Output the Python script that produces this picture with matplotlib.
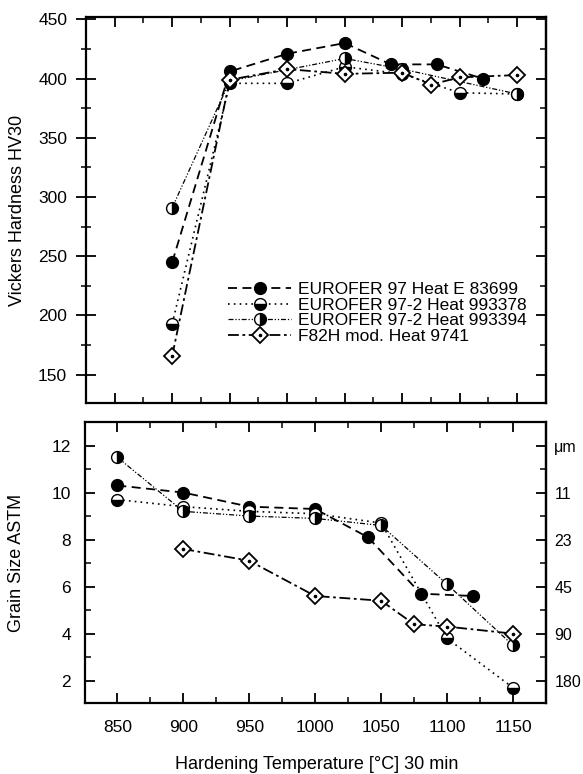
import matplotlib
matplotlib.use("Agg")
import matplotlib.pyplot as plt
from matplotlib.ticker import MultipleLocator, FixedLocator
from matplotlib.legend_handler import HandlerTuple

plt.rcParams['font.family'] = ['Liberation Sans', 'DejaVu Sans']

# ---------------- data ----------------
labels = ["EUROFER 97 Heat E 83699", "EUROFER 97-2 Heat 993378",
          "EUROFER 97-2 Heat 993394", "F82H mod. Heat 9741"]

# Hardness HV30
hv_t_e97 = [850, 900, 950, 1000, 1040, 1080, 1120]
hv_v_e97 = [245, 406, 421, 430, 412, 412, 400]
hv_t_378 = [850, 900, 950, 1000, 1050, 1100, 1150]
hv_v_378 = [193, 396, 396, 410, 404, 388, 387]
hv_t_394 = [850, 900, 1000, 1050, 1150]
hv_v_394 = [291, 398, 417, 408, 387]
hv_t_f82 = [850, 900, 950, 1000, 1050, 1075, 1100, 1150]
hv_v_f82 = [166, 399, 408, 404, 405, 395, 401, 403]

# Grain size ASTM
gs_t_e97 = [850, 900, 950, 1000, 1040, 1080, 1120]
gs_v_e97 = [10.3, 10.0, 9.4, 9.3, 8.1, 5.7, 5.6]
gs_t_378 = [850, 900, 950, 1000, 1050, 1100, 1150]
gs_v_378 = [9.7, 9.4, 9.2, 9.1, 8.7, 3.8, 1.7]
gs_t_394 = [850, 900, 950, 1000, 1050, 1100, 1150]
gs_v_394 = [11.5, 9.2, 9.0, 8.9, 8.6, 6.1, 3.5]
gs_t_f82 = [900, 950, 1000, 1050, 1075, 1100, 1150]
gs_v_f82 = [7.6, 7.1, 5.6, 5.4, 4.4, 4.3, 4.0]

um_ticks = [12, 10, 8, 6, 4, 2]
um_labels = ["\u03bcm", "11", "23", "45", "90", "180"]

# ---------------- style ----------------
styles = [
    dict(color='black', lw=1.3, dashes=(5, 3), marker='o', ms=8.5,
         mfc='black', mec='black'),
    dict(color='black', lw=1.2, dashes=(1, 2.5), marker='o', ms=8.5,
         mfc='black', mfcalt='white', fillstyle='bottom', mec='black'),
    dict(color='black', lw=0.9, dashes=(4, 1.5, 1, 1.5, 1, 1.5), marker='o', ms=8.5,
         mfc='black', mfcalt='white', fillstyle='right', mec='black'),
    dict(color='black', lw=1.3, dashes=(6, 2, 1.5, 2), marker='D', ms=8,
         mfc='white', mec='black', mew=1.3),
]

fig = plt.figure(figsize=(5.83, 7.74), dpi=100)
ax1 = fig.add_axes([0.1475, 0.4793, 0.789, 0.4987])
ax2 = fig.add_axes([0.1458, 0.0917, 0.7907, 0.3631])

def draw(ax, series):
    handles = []
    for (t, v), st in zip(series, styles):
        ln, = ax.plot(t, v, **st)
        handles.append(ln)
    # dot in diamond centre
    t, v = series[3]
    dot, = ax.plot(t, v, ls='none', marker='o', ms=1.6, color='black')
    handles[3] = (handles[3], dot)
    return handles

h = draw(ax1, [(hv_t_e97, hv_v_e97), (hv_t_378, hv_v_378),
               (hv_t_394, hv_v_394), (hv_t_f82, hv_v_f82)])
draw(ax2, [(gs_t_e97, gs_v_e97), (gs_t_378, gs_v_378),
           (gs_t_394, gs_v_394), (gs_t_f82, gs_v_f82)])

TL = 12.5  # tick label size

# ---- top axes ----
ax1.set_xlim(775, 1175)
ax1.set_ylim(126, 452)
ax1.xaxis.set_major_locator(MultipleLocator(50))
ax1.xaxis.set_minor_locator(MultipleLocator(25))
ax1.yaxis.set_major_locator(FixedLocator([150, 200, 250, 300, 350, 400, 450]))
ax1.yaxis.set_minor_locator(MultipleLocator(25))
ax1.tick_params(axis='x', which='both', direction='in', top=True, bottom=True,
                labelbottom=False)
ax1.tick_params(axis='x', which='major', length=7, width=1.3)
ax1.tick_params(axis='x', which='minor', length=4, width=1.1)
ax1.tick_params(axis='y', which='both', left=True, right=False, direction='inout')
ax1.tick_params(axis='y', which='major', length=15, width=1.3, labelsize=TL, pad=6)
ax1.tick_params(axis='y', which='minor', length=7, width=1.1)
sec = ax1.secondary_yaxis('right')
sec.yaxis.set_major_locator(MultipleLocator(50))
sec.yaxis.set_minor_locator(MultipleLocator(25))
sec.tick_params(which='both', direction='in', labelright=False)
sec.tick_params(which='major', length=7, width=1.3)
sec.tick_params(which='minor', length=4, width=1.1)
sec.spines['right'].set_linewidth(1.6)
ax1.set_ylabel("Vickers Hardness HV30", fontsize=13)
ax1.yaxis.set_label_coords(-0.13, 0.5)

leg = ax1.legend(h, labels, loc='lower right', bbox_to_anchor=(0.973, 0.135),
                 frameon=False, fontsize=12.5, handlelength=3.6,
                 handletextpad=0.4, labelspacing=0.02, borderaxespad=0.0,
                 handler_map={tuple: HandlerTuple(ndivide=1)})

# ---- bottom axes ----
ax2.set_xlim(825.5, 1175)
ax2.set_ylim(1.05, 13.0)
ax2.xaxis.set_major_locator(MultipleLocator(50))
ax2.xaxis.set_minor_locator(MultipleLocator(25))
ax2.yaxis.set_major_locator(MultipleLocator(2))
ax2.yaxis.set_minor_locator(MultipleLocator(1))
ax2.tick_params(axis='both', which='both', direction='in', top=True)
ax2.tick_params(which='major', length=7, width=1.3, labelsize=TL)
ax2.tick_params(which='minor', length=4, width=1.1)
ax2.tick_params(axis='x', pad=12)
ax2.tick_params(axis='y', pad=10)
sec2 = ax2.secondary_yaxis('right')
sec2.yaxis.set_major_locator(FixedLocator(um_ticks))
sec2.set_yticklabels(um_labels)
sec2.yaxis.set_minor_locator(MultipleLocator(1))
sec2.tick_params(which='both', direction='in', labelsize=11.5, pad=6)
sec2.tick_params(which='major', length=7, width=1.3)
sec2.tick_params(which='minor', length=4, width=1.1)
sec2.spines['right'].set_linewidth(1.6)
ax2.set_ylabel("Grain Size ASTM", fontsize=13)
ax2.yaxis.set_label_coords(-0.13, 0.5)

for ax in (ax1, ax2):
    for s in ax.spines.values():
        s.set_linewidth(1.6)

fig.text(0.544, 0.0125, "Hardening Temperature [\u00b0C] 30 min",
         ha='center', va='center', fontsize=13)

fig.savefig("out.png", dpi=100)
